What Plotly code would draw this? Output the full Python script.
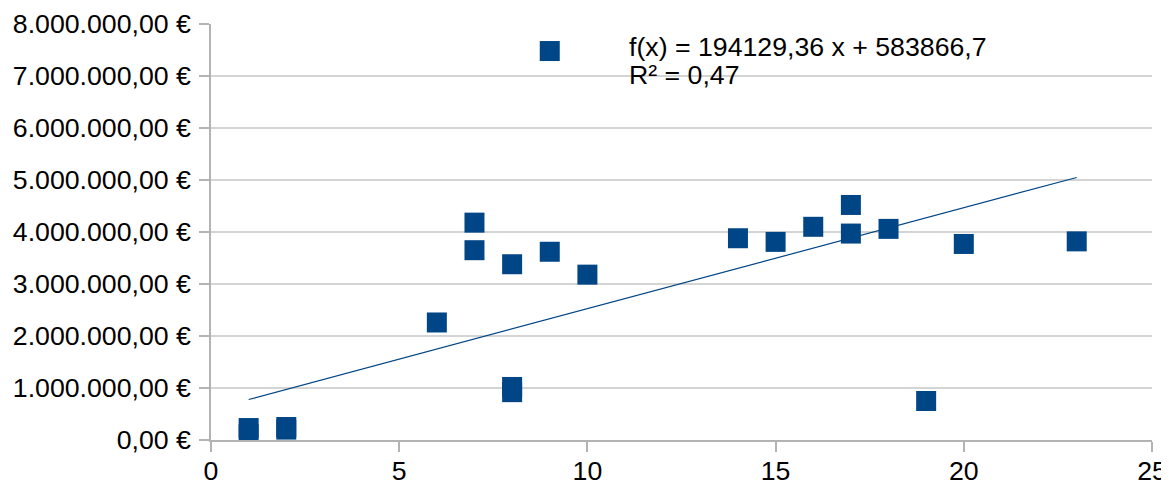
import plotly.graph_objects as go

# Data
x_vals = [1, 1, 2, 2, 6, 7, 7, 8, 8, 8, 9, 9, 10, 14, 15, 16, 17, 17, 18, 19, 20, 23]
y_vals = [230000, 110000, 250000, 200000, 2260000, 4180000, 3650000, 3380000,
          1020000, 920000, 7480000, 3620000, 3180000, 3880000, 3810000, 4100000,
          4520000, 3970000, 4060000, 750000, 3770000, 3820000]

# Linear trendline as stated on the chart
slope = 194129.36
intercept = 583866.7
trend_x = [min(x_vals), max(x_vals)]
trend_y = [slope * v + intercept for v in trend_x]

eq_text = "f(x) = 194129,36 x + 583866,7"
r2_text = "R² = 0,47"

y_ticks = [0, 1000000, 2000000, 3000000, 4000000, 5000000, 6000000, 7000000, 8000000]
y_tick_labels = ["0,00 €", "1.000.000,00 €", "2.000.000,00 €", "3.000.000,00 €",
                 "4.000.000,00 €", "5.000.000,00 €", "6.000.000,00 €",
                 "7.000.000,00 €", "8.000.000,00 €"]
x_ticks = [0, 5, 10, 15, 20, 25]

blue = "#004586"
FS = 26.7

# the page body adds an 8px offset; compensate so the plot sits where the reference has it
OFF = 8
W, H = 1169 - OFF, 485 - OFF
L, R, T, B = 211 - OFF, 17, 24 - OFF, 45
pw, ph = W - L - R, H - T - B


def px_to_paper(px, py):
    # px, py given in window pixels
    return (px - OFF - L) / pw, (H - B - (py - OFF)) / ph


fig = go.Figure()
fig.add_trace(go.Scatter(
    x=trend_x, y=trend_y, mode="lines",
    line=dict(color=blue, width=1.2), hoverinfo="skip", showlegend=False))
fig.add_trace(go.Scatter(
    x=x_vals, y=y_vals, mode="markers",
    marker=dict(symbol="square", size=20, color=blue, line=dict(width=0)),
    showlegend=False))

for txt, (ax, ay) in [(eq_text, (627, 47.5)), (r2_text, (627, 75))]:
    xp, yp = px_to_paper(ax, ay)
    fig.add_annotation(x=xp, y=yp, xref="paper", yref="paper", text=txt,
                       showarrow=False, xanchor="left", yanchor="middle",
                       font=dict(size=FS, color="black"))

fig.update_layout(
    width=W, height=H,
    margin=dict(l=L, r=R, t=T, b=B, autoexpand=False),
    paper_bgcolor="white", plot_bgcolor="white",
    font=dict(family="Liberation Sans", size=FS, color="black"),
    xaxis=dict(range=[0, 25], tickvals=x_ticks, showgrid=False, zeroline=False,
               showline=True, linecolor="#b3b3b3", linewidth=1.5,
               ticks="outside", ticklen=10, tickcolor="#b3b3b3", tickwidth=1.5,
               tickfont=dict(size=FS), automargin=False,
               ticklabeloverflow="allow", ticklabelstandoff=-4),
    yaxis=dict(range=[0, 8000000], tickvals=y_ticks, ticktext=y_tick_labels,
               showgrid=True, gridcolor="#d4d4d4", gridwidth=1.5, zeroline=False,
               showline=True, linecolor="#b3b3b3", linewidth=1.5,
               ticks="outside", ticklen=10, tickcolor="#b3b3b3", tickwidth=1.5,
               tickfont=dict(size=FS), automargin=False,
               ticklabeloverflow="allow", ticklabelstandoff=3),
)

fig.write_html("out.html")
